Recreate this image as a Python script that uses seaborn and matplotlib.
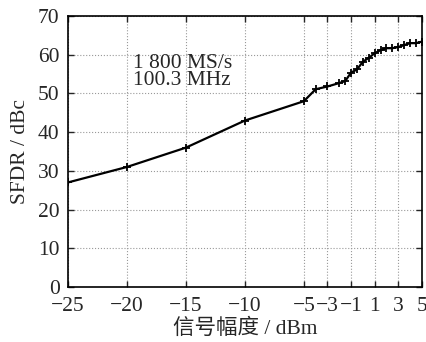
import numpy as np
import pandas as pd
import matplotlib
matplotlib.use('Agg')
import matplotlib.pyplot as plt
import seaborn as sns

# input amplitude (dBm) and measured SFDR (dBc)
amplitude = [-25, -20, -15, -10, -5, -4, -3, -2, -1.5, -1, -0.5, 0, 0.5,
             1, 1.5, 2, 2.5, 3, 3.5, 4, 4.5, 5]
sfdr = [27.0, 31.0, 36.0, 43.0, 48.0, 51.1, 51.8, 52.7, 53.2, 55.4, 56.2,
        58.2, 59.2, 60.4, 61.2, 61.7, 61.7, 62.0, 62.5, 63.0, 63.0, 63.4]

x_ticks = [-25, -20, -15, -10, -5, -3, -1, 1, 3, 5]
y_ticks = [0, 10, 20, 30, 40, 50, 60, 70]

df = pd.DataFrame({'amp': amplitude, 'sfdr': sfdr})

sns.set_style('ticks')
plt.rcParams['font.family'] = ['Liberation Serif', 'Noto Sans CJK SC']

fig = plt.figure(figsize=(4.27, 3.42), dpi=100)
ax = fig.add_axes([0.159, 0.161, 0.829, 0.792])

sns.lineplot(data=df, x='amp', y='sfdr', ax=ax, color='black', linewidth=1.6,
             marker='+', markersize=6, markeredgewidth=1.3, markeredgecolor='black')

ax.set_xlim(-25, 5)
ax.set_ylim(0, 70)
ax.set_xticks(x_ticks)
ax.set_xticklabels([str(t).replace('-', '\u2212') for t in x_ticks])
ax.set_yticks(y_ticks)
ax.grid(True, color='#999999', linestyle=':', linewidth=0.8)
ax.tick_params(direction='in', length=4, width=1, labelsize=15.5,
               top=True, right=True)
ax.tick_params(axis='x', pad=7)
ax.tick_params(axis='y', pad=6)
for s in ax.spines.values():
    s.set_linewidth(1.2)
    s.set_color('black')

ax.set_xlabel('信号幅度 / dBm', fontsize=15.5, labelpad=2)
ax.set_ylabel('SFDR / dBc', fontsize=15.5, labelpad=6)

ax.text(-19.5, 60.2, '1 800 MS/s\n100.3 MHz', fontsize=15.5, va='top', ha='left',
        linespacing=0.85)

fig.savefig('out.png', dpi=100)
